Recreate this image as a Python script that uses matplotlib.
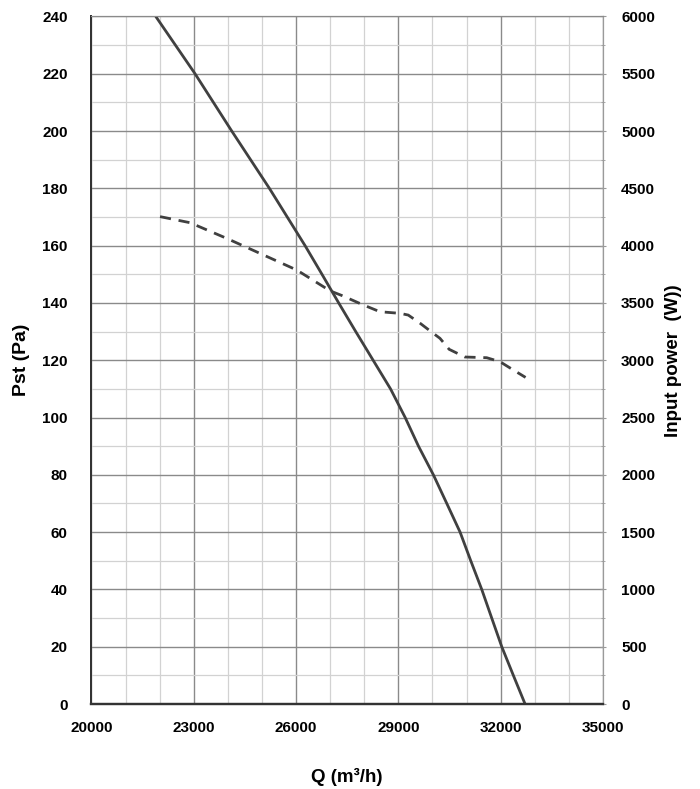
import matplotlib.pyplot as plt
from matplotlib.ticker import MultipleLocator

plt.rcParams['font.family'] = ['Liberation Sans', 'DejaVu Sans']
plt.rcParams['font.weight'] = 'bold'

# Pst curve (left axis)
q_pst = [21886, 23038, 24114, 25218, 26264, 26760, 27250, 27750, 28260, 28770,
         29200, 29590, 30027, 30420, 30810, 31123, 31445, 31738, 32032, 32372, 32716]
pst = [240, 220, 200, 180, 160, 150, 140, 130, 120, 110,
       100, 90, 80, 70, 60, 50, 40, 30, 20, 10, 0]

# Input power curve (right axis)
q_pow = [22012, 22891, 23968, 24944, 26021, 27000, 27340, 27950, 28460, 29050,
         29290, 29640, 30000, 30220, 30490, 30950, 31590, 31980, 32375, 32730]
power = [4253, 4200, 4063, 3932, 3787, 3605, 3565, 3485, 3423, 3409,
         3394, 3322, 3240, 3191, 3095, 3028, 3022, 2987, 2914, 2850]

x_ticks = [20000, 23000, 26000, 29000, 32000, 35000]

fig = plt.figure(figsize=(7.0, 7.89), dpi=100)
ax = fig.add_axes([0.1306, 0.1077, 0.7308, 0.8715])
ax2 = ax.twinx()

line_col = '#404040'

#grid on left axis
ax.set_xlim(20000, 35000)
ax.set_ylim(0, 240)
ax.set_xticks(x_ticks)
ax.xaxis.set_minor_locator(MultipleLocator(1000))
ax.yaxis.set_major_locator(MultipleLocator(20))
ax.yaxis.set_minor_locator(MultipleLocator(10))
ax.grid(which='major', color='#8a8a8a', linewidth=1.0)
ax.grid(which='minor', color='#d2d2d2', linewidth=0.9)
ax.set_axisbelow(True)

ax.plot(q_pst, pst, color=line_col, linewidth=2.0, solid_capstyle='butt',
        solid_joinstyle='round', zorder=3)

ax2.set_ylim(0, 6000)
ax2.yaxis.set_major_locator(MultipleLocator(500))
ax2.yaxis.set_minor_locator(MultipleLocator(250))
ax2.plot(q_pow, power, color=line_col, linewidth=2.0, dashes=(4, 2.8), zorder=3)

# spines
for a in (ax, ax2):
    a.spines['left'].set_color('#333333')
    a.spines['left'].set_linewidth(1.4)
    a.spines['bottom'].set_color('#333333')
    a.spines['bottom'].set_linewidth(1.6)
    a.spines['top'].set_color('#8a8a8a')
    a.spines['right'].set_color('#9a9a9a')

ax.tick_params(axis='both', which='both', length=0, labelsize=11, colors='black')
ax.tick_params(axis='y', pad=17)
ax.tick_params(axis='x', pad=12)
ax2.tick_params(axis='y', which='major', length=4, direction='inout', color='#9a9a9a',
                labelsize=11, pad=11)
ax2.tick_params(axis='y', which='minor', length=3, direction='inout', color='#9a9a9a')

for lbl in ax.get_xticklabels() + ax.get_yticklabels() + ax2.get_yticklabels():
    lbl.set_fontweight('bold')

ax.set_xlabel('Q (m³/h)', fontsize=13.5, fontweight='bold', labelpad=24)
ax.set_ylabel('Pst (Pa)', fontsize=14, fontweight='bold', labelpad=9)
ax2.set_ylabel('Input power  (W))', fontsize=13.5, fontweight='bold', labelpad=7)

fig.savefig('out.png', dpi=100)
